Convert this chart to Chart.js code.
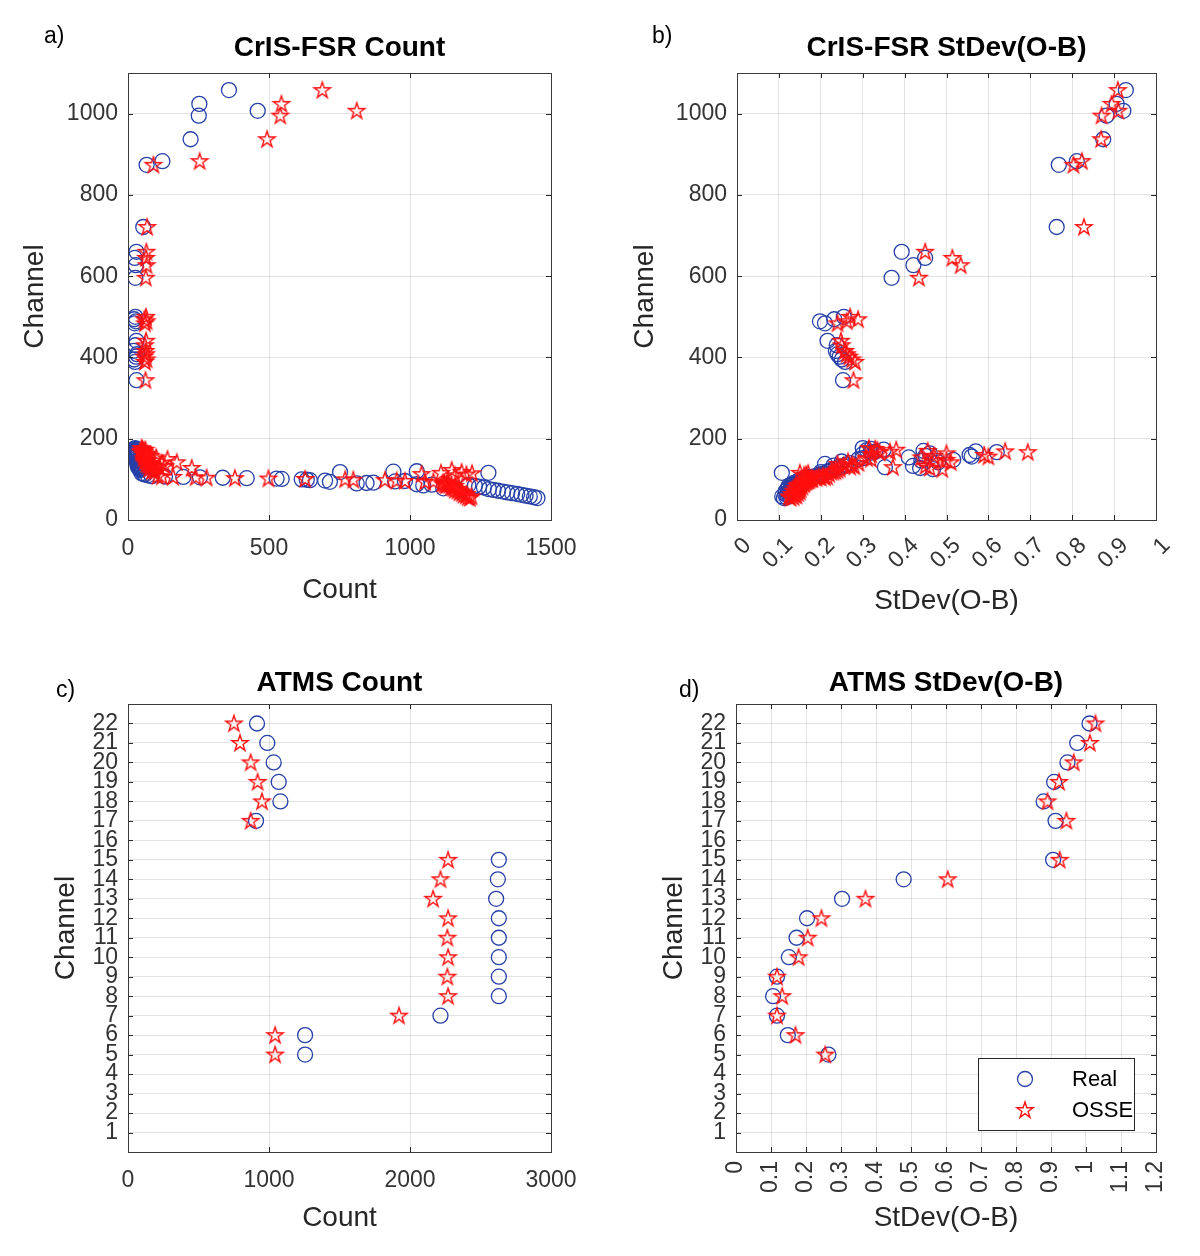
<!DOCTYPE html>
<html>
<head>
<meta charset="utf-8">
<script src="https://cdn.jsdelivr.net/npm/chart.js@4.4.1/dist/chart.umd.min.js"></script>
<style>
  body { margin:0; background:#fff; }
  #wrap { position:relative; width:1200px; height:1256px; background:#fff; }
  canvas { position:absolute; }
  .lbl { position:absolute; font-family:'Liberation Sans', Arial, sans-serif; font-size:23px; color:#000; }
</style>
</head>
<body>
<div id="wrap">
  <canvas id="ca" width="600" height="628" style="left:0;top:0"></canvas>
  <canvas id="cb" width="600" height="628" style="left:600px;top:0"></canvas>
  <canvas id="cc" width="600" height="628" style="left:0;top:628px"></canvas>
  <canvas id="cd" width="600" height="628" style="left:600px;top:628px"></canvas>
  <div class="lbl" style="left:44px;top:22px">a)</div>
  <div class="lbl" style="left:652px;top:22px">b)</div>
  <div class="lbl" style="left:56px;top:676px">c)</div>
  <div class="lbl" style="left:679px;top:676px">d)</div>
</div>
<script>
// ---------------- DATA ----------------
const crisChannels = [54,56,58,60,62,64,66,68,70,72,74,76,78,80,82,84,
  85,86,87,88,90,91,92,94,95,96,97,98,99,100,101,102,103,104,105,106,107,108,
  110,112,113,115,116,118,119,120,123,125,126,128,130,131,132,133,134,136,138,140,142,144,146,148,150,152,154,156,158,160,162,164,166,167,168,169,170,172,173,175,177,
  344,389,395,402,408,416,430,441,484,489,494,500,
  596,627,645,660,721,874,883,937,995,1007,1024,1058];
const crisCountReal = [1452,1440,1425,1410,1395,1380,1362,1345,1330,1312,1296,1280,1118,1262,1245,1230,
  1047,1207,1077,1024,811,846,870,716,947,982,699,645,634,616,545,527,421,336,255,196,131,84,
  70,60,55,48,1278,752,941,1024,45,40,48,42,38,35,50,44,36,40,33,38,45,35,30,38,28,32,26,30,28,24,30,26,22,28,24,20,26,22,30,28,25,
  30,25,22,28,32,20,26,30,24,28,22,26,
  26,28,24,30,54,66,122,222,251,460,253,358];
const crisCountOsse = [1212,1205,1218,1198,1190,1200,1185,1175,1180,1168,1160,1172,1155,1150,1145,1160,
  1128,1140,1122,1135,1115,1130,1118,1053,1083,982,953,911,799,770,628,498,379,279,240,160,120,105,
  1160,1200,1041,1220,1110,1183,95,85,1148,90,75,226,110,95,80,130,70,85,65,120,173,60,90,70,140,55,100,65,80,55,70,60,48,52,58,45,50,55,62,50,48,
  62,60,66,58,64,62,60,64,60,66,58,64,
  63,66,64,65,68,90,254,493,540,811,544,689];
const crisStdReal = [0.112,0.118,0.108,0.125,0.120,0.115,0.128,0.122,0.131,0.117,0.126,0.133,0.121,0.129,0.135,0.124,
  0.138,0.130,0.133,0.145,0.140,0.136,0.148,0.150,0.144,0.152,0.155,0.158,0.150,0.160,0.162,0.165,0.170,0.175,0.180,0.172,0.185,0.190,
  0.195,0.198,0.205,0.210,0.107,0.200,0.215,0.220,0.225,0.468,0.235,0.437,0.353,0.245,0.255,0.420,0.230,0.260,0.210,0.270,0.480,0.250,0.440,0.516,0.290,0.300,0.410,0.560,0.450,0.555,0.300,0.460,0.320,0.620,0.330,0.570,0.445,0.310,0.350,0.320,0.300,
  0.253,0.258,0.250,0.245,0.240,0.236,0.238,0.216,0.210,0.198,0.232,0.255,
  0.369,0.421,0.449,0.393,0.763,0.768,0.811,0.874,0.882,0.922,0.906,0.928];
const crisStdOsse = [0.128,0.135,0.124,0.142,0.138,0.130,0.146,0.140,0.150,0.134,0.145,0.152,0.139,0.148,0.156,0.143,
  0.150,0.146,0.148,0.160,0.152,0.158,0.162,0.165,0.157,0.166,0.170,0.168,0.172,0.175,0.178,0.180,0.190,0.200,0.210,0.195,0.215,0.205,
  0.160,0.165,0.220,0.170,0.150,0.225,0.230,0.235,0.240,0.490,0.245,0.460,0.372,0.270,0.280,0.450,0.255,0.275,0.240,0.290,0.510,0.265,0.470,0.500,0.320,0.310,0.440,0.600,0.470,0.590,0.320,0.500,0.340,0.694,0.365,0.640,0.455,0.335,0.380,0.330,0.315,
  0.278,0.282,0.275,0.268,0.262,0.258,0.250,0.248,0.240,0.262,0.289,0.270,
  0.434,0.534,0.514,0.449,0.828,0.803,0.823,0.869,0.870,0.910,0.894,0.909];

const atmsChannels   = [5,6,7,8,9,10,11,12,13,14,15,17,18,19,20,21,22];
const atmsCountReal  = [1256,1256,2216,2630,2630,2630,2630,2630,2611,2623,2630,908,1081,1069,1033,988,915];
const atmsCountOsse  = [1043,1043,1922,2270,2265,2270,2265,2270,2164,2216,2270,870,950,919,870,794,751];
const atmsStdReal    = [0.264,0.148,0.117,0.106,0.117,0.151,0.173,0.203,0.303,0.479,0.906,0.913,0.879,0.909,0.947,0.975,1.010];
const atmsStdOsse    = [0.255,0.170,0.117,0.132,0.117,0.179,0.205,0.244,0.370,0.605,0.925,0.944,0.890,0.923,0.965,1.011,1.027];

const seriesNames = ['Real', 'OSSE'];

// ---------------- STYLE ----------------
const FONT = "'Liberation Sans', Arial, Helvetica, sans-serif";
const REAL_COLOR = 'rgb(38,64,168)';
const OSSE_COLOR = 'rgb(255,16,16)';
const TEXT = '#262626';
const TICKTXT = '#333333';
const GRID = 'rgba(38,38,38,0.13)';
const TICK_SIZE = 23, LAB_SIZE = 28, TITLE_SIZE = 28;

function makeStar(color, R, lw) {
  const size = Math.ceil(2 * R + 2 * lw + 2);
  const c = document.createElement('canvas');
  c.width = size; c.height = size;
  const g = c.getContext('2d');
  const cx = size / 2, cy = size / 2 + R * 0.05, r = R * 0.382;
  g.beginPath();
  for (let i = 0; i < 10; i++) {
    const ang = -Math.PI / 2 + i * Math.PI / 5;
    const rr = i % 2 === 0 ? R : r;
    const px = cx + rr * Math.cos(ang), py = cy + rr * Math.sin(ang);
    if (i) g.lineTo(px, py); else g.moveTo(px, py);
  }
  g.closePath();
  g.strokeStyle = color; g.lineWidth = lw; g.lineJoin = 'miter';
  g.stroke();
  return c;
}
const starImg = makeStar(OSSE_COLOR, 8.5, 1.4);

const boxPlugin = {
  id: 'matlabBox',
  afterDraw(chart, args, opts) {
    const { ctx, chartArea } = chart;
    const { left, top, right, bottom } = chartArea;
    const xs = chart.scales.x, ys = chart.scales.y;
    const L = 5;
    ctx.save();
    // custom rotated x labels (MATLAB style anchoring)
    if (opts.rotLabels) {
      ctx.fillStyle = TICKTXT;
      ctx.font = TICK_SIZE + 'px ' + FONT;
      ctx.textAlign = 'right';
      ctx.textBaseline = 'middle';
      xs.ticks.forEach(t => {
        const px = xs.getPixelForValue(t.value);
        ctx.save();
        ctx.translate(px + opts.rotLabels.dx, bottom + opts.rotLabels.dy);
        ctx.rotate(-Math.PI / 4);
        ctx.fillText(String(+(+t.value).toFixed(1)), 0, 0);
        ctx.restore();
      });
    }
    ctx.strokeStyle = TEXT;
    ctx.lineWidth = 1;
    ctx.beginPath();
    xs.ticks.forEach(t => {
      const px = Math.round(xs.getPixelForValue(t.value)) + 0.5;
      ctx.moveTo(px, bottom); ctx.lineTo(px, bottom - L);
      ctx.moveTo(px, top); ctx.lineTo(px, top + L);
    });
    ys.ticks.forEach(t => {
      const py = Math.round(ys.getPixelForValue(t.value)) + 0.5;
      ctx.moveTo(left, py); ctx.lineTo(left + L, py);
      ctx.moveTo(right, py); ctx.lineTo(right - L, py);
    });
    ctx.stroke();
    ctx.strokeStyle = '#3a3a3a';
    ctx.strokeRect(Math.round(left) + 0.5, Math.round(top) + 0.5, Math.round(right - left), Math.round(bottom - top));
    if (opts.legend) {
      const bx = 378, by = 430, bw = 156, bh = 72;
      ctx.fillStyle = '#fff';
      ctx.fillRect(bx, by, bw, bh);
      ctx.strokeStyle = '#262626';
      ctx.strokeRect(bx + 0.5, by + 0.5, bw, bh);
      ctx.beginPath();
      ctx.strokeStyle = REAL_COLOR; ctx.lineWidth = 1.3;
      ctx.arc(425, 451, 7.5, 0, Math.PI * 2);
      ctx.stroke();
      ctx.drawImage(starImg, 425 - starImg.width / 2, 482 - starImg.height / 2);
      ctx.fillStyle = '#000';
      ctx.font = '22px ' + FONT;
      ctx.textBaseline = 'middle';
      ctx.textAlign = 'left';
      ctx.fillText(seriesNames[0], 472, 452);
      ctx.fillText(seriesNames[1], 472, 483);
    }
    ctx.restore();
  }
};

function fmt1(v) { return String(+(+v).toFixed(1)); }
function fmt0(v) { return String(Math.round(v)); }

function buildChart(id, cfg) {
  const H = 628, W = 600;
  const A = cfg.area;
  const tickFont = { family: FONT, size: TICK_SIZE };
  const labFont = { family: FONT, size: LAB_SIZE };
  const labLH = LAB_SIZE * 1.2, titleLH = TITLE_SIZE * 1.2;
  const yCfg = {
    type: 'linear', min: cfg.yMin, max: cfg.yMax,
    ticks: { stepSize: cfg.yStep, includeBounds: false, autoSkip: false, font: tickFont, color: TICKTXT, padding: 10, callback: fmt0 },
    grid: { color: GRID, lineWidth: 1, drawTicks: false },
    border: { display: false },
    title: { display: true, text: 'Channel', font: labFont, color: TEXT, padding: { top: cfg.yTitleX - labLH / 2, bottom: 0 } },
    afterFit: s => { s.width = A.l; }
  };
  if (cfg.yFilter) {
    yCfg.afterBuildTicks = s => { s.ticks = s.ticks.filter(t => t.value >= 1 && t.value <= 22); };
  }
  return new Chart(document.getElementById(id), {
    type: 'scatter',
    data: {
      datasets: [
        { label: seriesNames[0], data: cfg.xReal.map((v, i) => ({ x: v, y: cfg.yVals[i] })),
          pointStyle: 'circle', pointRadius: 7.5, borderColor: REAL_COLOR,
          backgroundColor: 'rgba(0,0,0,0)', borderWidth: 1.3, order: 2 },
        { label: seriesNames[1], data: cfg.xOsse.map((v, i) => ({ x: v, y: cfg.yVals[i] })),
          pointStyle: starImg, pointRadius: 8, borderColor: OSSE_COLOR,
          backgroundColor: 'rgba(0,0,0,0)', order: 1 }
      ]
    },
    options: {
      responsive: false, animation: false, events: [],
      layout: { padding: { left: 0, top: 0, right: W - A.r, bottom: 0 } },
      plugins: {
        legend: { display: false },
        tooltip: { enabled: false },
        title: { display: true, text: cfg.title, fullSize: false, color: '#000',
          font: { family: FONT, size: TITLE_SIZE, weight: 'bold' },
          padding: { top: cfg.titleY - titleLH / 2, bottom: A.t - titleLH - (cfg.titleY - titleLH / 2) } },
        matlabBox: { legend: !!cfg.legend, rotLabels: cfg.rotLabels || null }
      },
      scales: {
        x: {
          type: 'linear', min: cfg.xMin, max: cfg.xMax,
          ticks: { display: !cfg.rotLabels, stepSize: cfg.xStep, includeBounds: false, autoSkip: false,
            minRotation: cfg.rot, maxRotation: cfg.rot, font: tickFont, color: TICKTXT,
            padding: cfg.xTickPad, callback: cfg.xFmt },
          grid: { color: GRID, lineWidth: 1, drawTicks: false },
          border: { display: false },
          title: { display: true, text: cfg.xTitle, font: labFont, color: TEXT, padding: { top: 0, bottom: (H - cfg.xTitleY) - labLH / 2 } },
          afterFit: s => { s.height = H - A.b; }
        },
        y: yCfg
      }
    },
    plugins: [boxPlugin]
  });
}

buildChart('ca', { title: 'CrIS-FSR Count', xTitle: 'Count', xReal: crisCountReal, xOsse: crisCountOsse, yVals: crisChannels,
  xMin: 0, xMax: 1500, xStep: 500, yMin: 0, yMax: 1100, yStep: 200, rot: 0, xFmt: fmt0, xTickPad: 15,
  area: { l: 128, t: 73, r: 551, b: 520 }, titleY: 48, yTitleX: 35, xTitleY: 590 });
buildChart('cb', { title: 'CrIS-FSR StDev(O-B)', xTitle: 'StDev(O-B)', xReal: crisStdReal, xOsse: crisStdOsse, yVals: crisChannels,
  xMin: 0, xMax: 1, xStep: 0.1, yMin: 0, yMax: 1100, yStep: 200, rot: 0, xFmt: fmt1, xTickPad: 8,
  rotLabels: { dx: 10.5, dy: 22 },
  area: { l: 137, t: 73, r: 556, b: 520 }, titleY: 48, yTitleX: 45, xTitleY: 601 });
buildChart('cc', { title: 'ATMS Count', xTitle: 'Count', xReal: atmsCountReal, xOsse: atmsCountOsse, yVals: atmsChannels,
  xMin: 0, xMax: 3000, xStep: 1000, yMin: 0, yMax: 23, yStep: 1, yFilter: true, rot: 0, xFmt: fmt0, xTickPad: 15,
  area: { l: 128, t: 76, r: 551, b: 524 }, titleY: 55, yTitleX: 66, xTitleY: 590 });
buildChart('cd', { title: 'ATMS StDev(O-B)', xTitle: 'StDev(O-B)', xReal: atmsStdReal, xOsse: atmsStdOsse, yVals: atmsChannels,
  xMin: 0, xMax: 1.2, xStep: 0.1, yMin: 0, yMax: 23, yStep: 1, yFilter: true, rot: 90, xFmt: fmt1, xTickPad: 9,
  area: { l: 136, t: 76, r: 556, b: 524 }, titleY: 55, yTitleX: 74, xTitleY: 590, legend: true });
</script>
</body>
</html>
